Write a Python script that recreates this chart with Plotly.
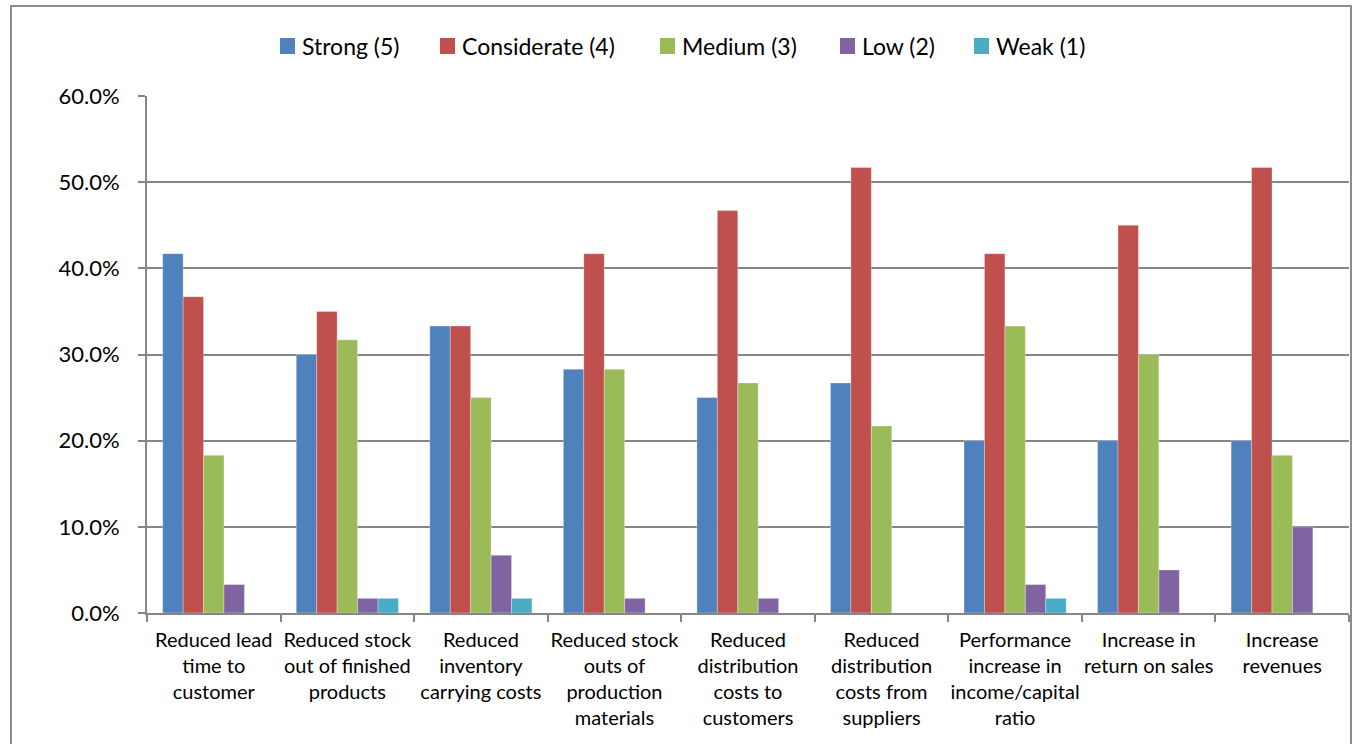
import plotly.graph_objects as go

categories = [
    "Reduced lead<br>time to<br>customer",
    "Reduced stock<br>out of finished<br>products",
    "Reduced<br>inventory<br>carrying costs",
    "Reduced stock<br>outs of<br>production<br>materials",
    "Reduced<br>distribution<br>costs to<br>customers",
    "Reduced<br>distribution<br>costs from<br>suppliers",
    "Performance<br>increase in<br>income/capital<br>ratio",
    "Increase in<br>return on sales",
    "Increase<br>revenues",
]

strong = [41.7, 30.0, 33.3, 28.3, 25.0, 26.7, 20.0, 20.0, 20.0]
considerate = [36.7, 35.0, 33.3, 41.7, 46.7, 51.7, 41.7, 45.0, 51.7]
medium = [18.3, 31.7, 25.0, 28.3, 26.7, 21.7, 33.3, 30.0, 18.3]
low = [3.3, 1.7, 6.7, 1.7, 1.7, 0.0, 3.3, 5.0, 10.0]
weak = [0.0, 1.7, 1.7, 0.0, 0.0, 0.0, 1.7, 0.0, 0.0]

series_names = ["Strong (5)", "Considerate (4)", "Medium (3)", "Low (2)", "Weak (1)"]
series_values = [strong, considerate, medium, low, weak]
series_colors = ["#4F81BD", "#C0504D", "#9BBB59", "#8064A2", "#4BACC6"]

W, H = 1358, 744
L, R, T, B = 147, 9, 96, 131
pw = W - L - R
ph = H - T - B
plot_bottom = H - B


def px_x(x):
    return (x - L) / pw


def px_y(y):
    return (plot_bottom - y) / ph


fig = go.Figure()
for name, vals, color in zip(series_names, series_values, series_colors):
    fig.add_trace(go.Bar(
        name=name, x=categories, y=vals, showlegend=False,
        marker=dict(color=color, line=dict(color="rgba(255,255,255,0.6)", width=0.5)),
    ))

# outer chart frame (its lower edge runs past the bottom of the page)
fig.add_shape(
    type="rect", xref="paper", yref="paper",
    x0=px_x(11), x1=px_x(1351), y0=px_y(770), y1=px_y(6),
    line=dict(color="#8c8c8c", width=2), layer="below",
)

# legend row across the top: colour swatch + label for each series
legend_left = [280, 440, 660, 840, 974]
for name, color, lx in zip(series_names, series_colors, legend_left):
    fig.add_shape(
        type="rect", xref="paper", yref="paper",
        x0=px_x(lx), x1=px_x(lx + 15), y0=px_y(54), y1=px_y(38),
        fillcolor=color, line=dict(width=0),
    )
    fig.add_annotation(
        xref="paper", yref="paper", x=px_x(lx + 20), y=px_y(46),
        xanchor="left", yanchor="middle", text=name, showarrow=False,
        font=dict(size=23, color="#000000"),
    )

fig.update_layout(
    width=W, height=H,
    margin=dict(l=L, r=R, t=T, b=B),
    paper_bgcolor="white", plot_bgcolor="white",
    font=dict(family="Lato, Open Sans, sans-serif", color="#000000"),
    barmode="group", bargap=0.235, bargroupgap=0,
    showlegend=False,
    xaxis=dict(
        showline=True, linecolor="#868686", linewidth=2,
        ticks="outside", tickson="boundaries", ticklen=7, tickcolor="#868686", tickwidth=2,
        tickfont=dict(size=20), tickangle=0, showgrid=False, ticklabelstandoff=8,
    ),
    yaxis=dict(
        range=[0, 60], dtick=10, tickformat=".1f", ticksuffix="%",
        showline=True, linecolor="#868686", linewidth=2,
        ticks="outside", ticklen=7, tickcolor="#868686", tickwidth=2,
        showgrid=True, gridcolor="#868686", gridwidth=1.5,
        tickfont=dict(size=22), zeroline=False, ticklabelstandoff=14,
    ),
)

fig.write_html("out.html")
